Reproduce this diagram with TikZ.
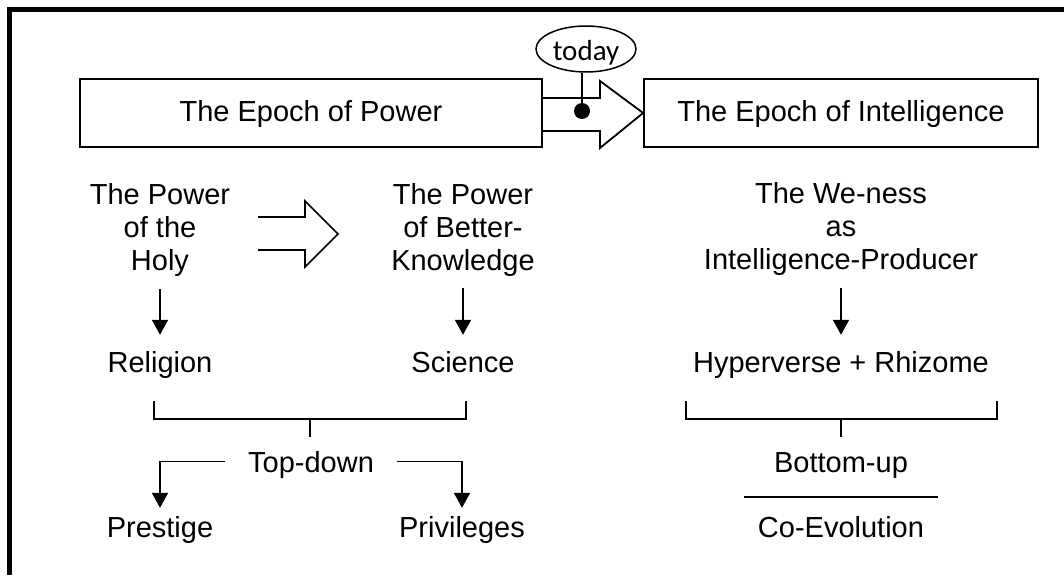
\documentclass[tikz,border=0pt]{standalone}
\usepackage{fontspec}
\setmainfont{Liberation Sans}
\newfontfamily\todayfont{Carlito}
\usetikzlibrary{arrows.meta,shapes.geometric}
\begin{document}
\begin{tikzpicture}[x=1pt,y=-1pt,
  txt/.style={font=\fontsize{29}{33}\selectfont, inner sep=0pt, align=center},
  epochbox/.style={draw, line width=1.8pt, minimum height=68pt, inner sep=0pt, font=\fontsize{29}{33}\selectfont},
  conn/.style={line width=1.6pt},
  arr/.style={conn, -{Triangle[width=16pt,length=15pt]}},
  hollow/.style={line width=1.8pt, line join=miter},
]
\useasboundingbox (0,0) rectangle (1064,575);
% outer frame (top and left)
\draw[line width=4.5pt, line join=miter] (9.5,575) -- (9.5,9.5) -- (1064,9.5);

% epoch boxes
\node[epochbox, minimum width=462pt, text height=21pt, text depth=4pt] (box1) at (311,113) {The Epoch of Power};
\node[epochbox, minimum width=394pt, text height=21pt, text depth=4pt] (box2) at (841,113) {The Epoch of Intelligence};

% big hollow arrow between the boxes
\coordinate (shafttop) at (600,98);
\coordinate (shaftbot) at (600,131);
\coordinate (headtop) at (600,81);
\coordinate (headbot) at (600,148);
\draw[hollow] (box1.east |- shafttop) -- (shafttop) -- (headtop) -- (box2.west) -- (headbot) -- (shaftbot) -- (box1.east |- shaftbot);

% today marker
\node[ellipse, draw, line width=1.5pt, minimum width=100pt, minimum height=46pt, inner sep=0pt,
      text height=24pt, text depth=0pt, font=\todayfont\fontsize{29}{33}\selectfont] (today) at (586,49) {today};
\node[circle, fill, inner sep=0pt, minimum size=16pt] (dot) at (582,111) {};
\draw[conn] (dot.center) -- (dot |- today.south);

% column texts (base anchor = baseline of the last line)
\node[txt, anchor=base] (holy) at (160,270) {The Power\\of the\\Holy};
\node[txt, anchor=base] (better) at (463,270) {The Power\\of Better-\\Knowledge};
\node[txt, anchor=base] (weness) at (841,269) {The We-ness\\as\\Intelligence-Producer};
\node[txt, anchor=base] (religion) at (160,372) {Religion};
\node[txt, anchor=base] (science) at (463,372) {Science};
\node[txt, anchor=base] (hyper) at (841,372) {Hyperverse + Rhizome};
\node[txt, anchor=base, inner xsep=23pt, text depth=0pt] (topdown) at (311,472) {Top-down};
\node[txt, anchor=base] (prestige) at (160,537) {Prestige};
\node[txt, anchor=base] (privileges) at (462,537) {Privileges};
\node[txt, anchor=base] (bottomup) at (841,472) {Bottom-up};
\node[txt, anchor=base] (coevo) at (841,537) {Co-Evolution};

% hollow arrow between the power columns
\draw[conn, line join=miter] (258,217) -- (305,217) -- (305,201) -- (338,234) -- (305,267) -- (305,250) -- (258,250);

% down arrows
\draw[arr] ([yshift=-13pt]holy.south) -- ([yshift=16pt]religion.north);
\draw[arr] ([yshift=-12pt]better.south) -- ([yshift=16pt]science.north);
\draw[arr] ([yshift=-13pt]weness.south) -- ([yshift=16pt]hyper.north);

% left bracket
\coordinate (lbl) at (154,401);
\coordinate (lbr) at (466,401);
\coordinate (lbm) at (310,419);
\draw[conn] (lbl) -- (lbl |- lbm) -- (lbr |- lbm) -- (lbr);
\draw[conn] (lbm) -- ++(0,18);

% right bracket
\coordinate (rbl) at (686,401);
\coordinate (rbr) at (997,401);
\coordinate (rbm) at (841,419);
\draw[conn] (rbl) -- (rbl |- rbm) -- (rbr |- rbm) -- (rbr);
\draw[conn] (rbm) -- ++(0,18);

% top-down branches
\draw[arr] (topdown.west) -| ([yshift=8pt]prestige.north);
\draw[arr] (topdown.east) -| ([yshift=8pt]privileges.north);

% separator between Bottom-up and Co-Evolution
\coordinate (sepL) at (744,497);
\coordinate (sepR) at (938,497);
\draw[conn] (sepL) -- (sepR);
\end{tikzpicture}
\end{document}
